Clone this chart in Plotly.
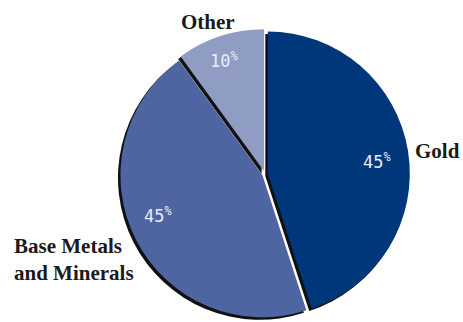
import math
import plotly.graph_objects as go

# Portfolio split by commodity
labels = ["Gold", "Base Metals and Minerals", "Other"]
shares = [45, 45, 10]
colors = ["#00377a", "#4e65a1", "#8f9dc4"]

W, H = 463, 322
cx, cy = 265, 174          # pie centre in pixels
r = 142                    # pie radius in pixels
pull = 0.02
half = r * (1 + pull)

# fine pixel nudges for the in-slice percentage labels (x, y)
label_nudge = [(-3, -5), (-3, 12), (-5, 3)]

def dom(px_x, px_y):
    return dict(x=[(px_x - half) / W, (px_x + half) / W],
                y=[max(0, 1 - (px_y + half) / H), min(1, 1 - (px_y - half) / H)])

fig = go.Figure()

# dark drop shadow, offset down-left
fig.add_trace(go.Pie(
    values=shares, labels=labels, sort=False, direction="clockwise", rotation=0,
    pull=pull, marker=dict(colors=["#111111"] * len(shares), line=dict(width=0)),
    textinfo="none", hoverinfo="skip", showlegend=False,
    domain=dom(cx - 2.5, cy + 2.5),
))

# coloured slices
fig.add_trace(go.Pie(
    values=shares, labels=labels, sort=False, direction="clockwise", rotation=0,
    pull=pull, marker=dict(colors=colors, line=dict(width=0)),
    textinfo="none", showlegend=False,
    domain=dom(cx, cy),
))

# percentage labels along each slice's bisector
total = sum(shares)
cum = 0
annotations = []
for v, (nx, ny) in zip(shares, label_nudge):
    a = math.radians((cum + v / 2) / total * 360)
    cum += v
    rr = r * 0.82
    px = cx + rr * math.sin(a)
    py = cy - rr * math.cos(a)
    annotations.append(dict(
        x=px / W, y=1 - py / H, xref="paper", yref="paper",
        xanchor="center", yanchor="middle", xshift=nx, yshift=ny,
        text=f"{v}<sup>%</sup>", showarrow=False,
        font=dict(family="DejaVu Sans Mono", size=17, color="#e8ecf4"),
    ))

label_font = dict(family="Liberation Serif", size=21, color="#1a1a1a")
annotations += [
    dict(x=437 / W, y=1 - 151 / H, xref="paper", yref="paper",
         xanchor="center", yanchor="middle", text="<b>Gold</b>",
         showarrow=False, font=label_font),
    dict(x=208 / W, y=1 - 22 / H, xref="paper", yref="paper",
         xanchor="center", yanchor="middle", text="<b>Other</b>",
         showarrow=False, font=label_font),
    dict(x=12 / W, y=1 - 259 / H, xref="paper", yref="paper",
         xanchor="left", yanchor="middle", align="left",
         text="<b>Base Metals<br>and Minerals</b>",
         showarrow=False, font=label_font),
]

fig.update_layout(
    width=W, height=H, margin=dict(l=0, r=0, t=0, b=0),
    paper_bgcolor="white", plot_bgcolor="white",
    annotations=annotations,
)

fig.write_html("out.html")
